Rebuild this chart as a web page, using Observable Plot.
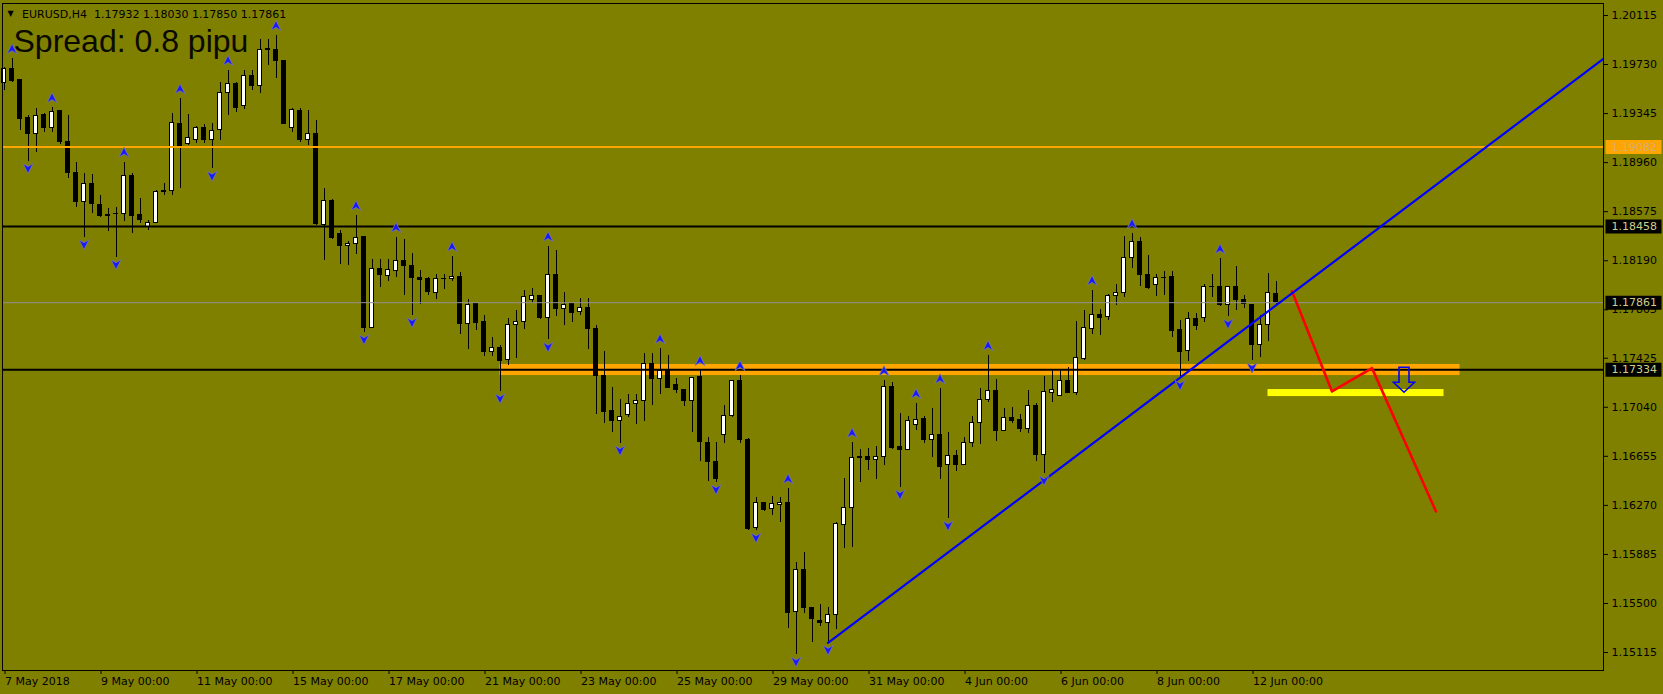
<!DOCTYPE html>
<html><head><meta charset="utf-8">
<script src="https://cdn.jsdelivr.net/npm/d3@7"></script>
<script src="https://cdn.jsdelivr.net/npm/@observablehq/plot@0.6"></script>
<style>
html,body{margin:0;padding:0;background:#808000;overflow:hidden}
#chart svg{display:block}
</style></head><body><div id="chart"></div>
<script>
// ---- data (EURUSD H4, bar 0 = 7 May 2018 00:00) ----
const opens = [1.19584,1.19697,1.19605,1.19309,1.19187,1.19330,1.19234,1.19362,1.19121,1.18880,
1.18650,1.18794,1.18624,1.18548,1.18559,1.18559,1.18859,1.18551,1.18453,1.18488,
1.18739,1.18736,1.19265,1.19108,1.19140,1.19234,1.19140,1.19213,1.19508,1.19579,
1.19401,1.19642,1.19563,1.19848,1.19846,1.19760,1.19234,1.19362,1.19140,1.19187,
1.18472,1.18655,1.18402,1.18304,1.18323,1.18373,1.17664,1.18127,1.18069,1.18111,
1.18190,1.18150,1.18056,1.18043,1.17935,1.18048,1.18045,1.18066,1.17692,1.17847,
1.17713,1.17472,1.17509,1.17413,1.17684,1.17708,1.17884,1.17917,1.17739,1.18082,
1.17810,1.17847,1.17788,1.17821,1.17658,1.17287,1.17007,1.16934,1.16981,1.17067,
1.17091,1.17383,1.17260,1.17321,1.17211,1.17179,1.17091,1.17274,1.16761,1.16612,
1.16824,1.16970,1.17250,1.16787,1.16094,1.16292,1.16240,1.16274,1.16292,1.15431,
1.15764,1.15468,1.15366,1.15345,1.15411,1.16117,1.16251,1.16646,1.16653,1.16628,
1.16648,1.17201,1.16732,1.16703,1.16899,1.16944,1.16785,1.16824,1.16585,1.16659,
1.16585,1.16761,1.16918,1.17095,1.17164,1.16852,1.16952,1.16938,1.16868,1.17051,
1.16664,1.17153,1.17130,1.17248,1.17153,1.17417,1.17653,1.17768,1.17747,1.17912,
1.17935,1.18210,1.18341,1.18082,1.17998,1.18056,1.18059,1.17643,1.17480,1.17729,
1.17739,1.17986,1.17986,1.17841,1.17986,1.17884,1.17839,1.17527,1.17687,1.17932];
const highs = [1.19709,1.19775,1.19613,1.19330,1.19383,1.19344,1.19391,1.19364,1.19330,1.18959,
1.18873,1.18867,1.18702,1.18598,1.18610,1.18964,1.18873,1.18676,1.18506,1.18742,
1.18794,1.19348,1.19461,1.19336,1.19244,1.19260,1.19265,1.19592,1.19684,1.19592,
1.19684,1.19684,1.19925,1.19925,1.19958,1.19762,1.19383,1.19383,1.19370,1.19291,
1.18755,1.18671,1.18428,1.18341,1.18545,1.18380,1.18200,1.18200,1.18200,1.18373,
1.18357,1.18247,1.18114,1.18056,1.18082,1.18080,1.18223,1.18098,1.17886,1.17850,
1.17760,1.17588,1.17525,1.17737,1.17800,1.17957,1.17972,1.17920,1.18302,1.18271,
1.17941,1.17852,1.17896,1.17894,1.17682,1.17478,1.17193,1.17101,1.17138,1.17140,
1.17460,1.17460,1.17499,1.17446,1.17263,1.17182,1.17276,1.17329,1.16803,1.16761,
1.17051,1.17250,1.17289,1.16795,1.16329,1.16295,1.16339,1.16334,1.16400,1.15821,
1.15897,1.15470,1.15492,1.15468,1.16133,1.16483,1.16761,1.16708,1.16716,1.16732,
1.17248,1.17234,1.16989,1.16967,1.17069,1.16965,1.17028,1.17185,1.16842,1.16701,
1.16803,1.16967,1.17185,1.17446,1.17256,1.17030,1.17036,1.16981,1.17172,1.17069,
1.17281,1.17329,1.17329,1.17352,1.17713,1.17800,1.17957,1.17807,1.17925,1.18004,
1.18380,1.18402,1.18370,1.18231,1.18080,1.18106,1.18106,1.17721,1.17784,1.17776,
1.18004,1.18082,1.18205,1.17990,1.18145,1.17917,1.17847,1.17760,1.18088,1.18030];
const lows = [1.19527,1.19592,1.19213,1.18972,1.19042,1.19199,1.19199,1.19103,1.18833,1.18610,
1.18375,1.18559,1.18532,1.18422,1.18218,1.18501,1.18406,1.18485,1.18428,1.18480,
1.18702,1.18702,1.18755,1.19095,1.19108,1.19108,1.18912,1.19134,1.19330,1.19356,
1.19375,1.19527,1.19501,1.19723,1.19618,1.19260,1.19199,1.19121,1.19095,1.18467,
1.18192,1.18357,1.18161,1.18153,1.18239,1.17629,1.17660,1.17982,1.18030,1.18061,
1.17917,1.17763,1.17847,1.17917,1.17886,1.17964,1.18030,1.17611,1.17493,1.17645,
1.17438,1.17438,1.17166,1.17368,1.17425,1.17650,1.17852,1.17729,1.17570,1.17752,
1.17682,1.17708,1.17760,1.17493,1.16983,1.16915,1.16844,1.16758,1.16962,1.16907,
1.16931,1.17056,1.17143,1.17193,1.17150,1.17048,1.16844,1.16617,1.16460,1.16452,
1.16758,1.16957,1.16758,1.16073,1.16073,1.16224,1.16190,1.16138,1.15306,1.15099,
1.15419,1.15196,1.15321,1.15191,1.15295,1.15929,1.15941,1.16452,1.16546,1.16475,
1.16585,1.16706,1.16412,1.16700,1.16858,1.16755,1.16646,1.16475,1.16167,1.16538,
1.16583,1.16726,1.16750,1.17077,1.16774,1.16850,1.16912,1.16839,1.16832,1.16617,
1.16522,1.17080,1.17128,1.17150,1.17132,1.17407,1.17611,1.17603,1.17721,1.17839,
1.17904,1.18132,1.17988,1.17964,1.17909,1.17917,1.17590,1.17270,1.17402,1.17643,
1.17708,1.17904,1.17831,1.17752,1.17800,1.17818,1.17407,1.17433,1.17559,1.17850];
const closes = [1.19697,1.19600,1.19304,1.19187,1.19325,1.19231,1.19359,1.19121,1.18877,1.18650,
1.18794,1.18637,1.18540,1.18540,1.18553,1.18859,1.18545,1.18506,1.18488,1.18728,
1.18731,1.19270,1.19081,1.19155,1.19234,1.19140,1.19210,1.19508,1.19579,1.19391,
1.19639,1.19563,1.19846,1.19843,1.19757,1.19265,1.19370,1.19140,1.19187,1.18475,
1.18655,1.18367,1.18304,1.18325,1.18370,1.17661,1.18127,1.18077,1.18114,1.18190,
1.18147,1.18053,1.18037,1.17943,1.18048,1.18045,1.18064,1.17692,1.17844,1.17700,
1.17470,1.17507,1.17407,1.17687,1.17711,1.17909,1.17915,1.17739,1.18082,1.17810,
1.17844,1.17778,1.17821,1.17653,1.17284,1.17001,1.16931,1.16965,1.17067,1.17091,
1.17381,1.17260,1.17321,1.17195,1.17172,1.17091,1.17271,1.16766,1.16609,1.16475,
1.16973,1.17248,1.16781,1.16088,1.16292,1.16237,1.16277,1.16292,1.15423,1.15764,
1.15463,1.15376,1.15345,1.15413,1.16120,1.16251,1.16643,1.16640,1.16624,1.16653,
1.17201,1.16724,1.16703,1.16934,1.16942,1.16781,1.16824,1.16575,1.16659,1.16585,
1.16761,1.16918,1.17099,1.17164,1.16852,1.16957,1.16931,1.16868,1.17051,1.16664,
1.17156,1.17177,1.17248,1.17153,1.17428,1.17666,1.17768,1.17739,1.17915,1.17938,
1.18213,1.18341,1.18077,1.17980,1.18056,1.18053,1.17637,1.17472,1.17729,1.17674,
1.17986,1.17982,1.17841,1.17986,1.17880,1.17849,1.17527,1.17687,1.17938,1.17861];

const fractalUpBars = [1,6,15,22,28,34,44,49,56,68,82,87,92,98,106,110,114,117,123,136,141,152];
const fractalDownBars = [3,10,14,26,45,51,62,68,77,89,94,99,103,112,118,130,147,153,156];

const dateTickBars = [0,12,24,36,48,60,72,84,96,108,120,132,144,156];
const dateTickLabels = ["7 May 2018","9 May 00:00","11 May 00:00","15 May 00:00","17 May 00:00","21 May 00:00",
  "23 May 00:00","25 May 00:00","29 May 00:00","31 May 00:00","4 Jun 00:00","6 Jun 00:00","8 Jun 00:00","12 Jun 00:00"];
const priceTicks = [1.20115,1.19730,1.19345,1.18960,1.18575,1.18190,1.17805,1.17425,1.17040,1.16655,1.16270,1.15885,1.15500,1.15115];

const orangeLevel = 1.19082;
const blackLevels = [1.18458, 1.17334];
const bidPrice = 1.17861;
const zoneBars = [62, 182];
const zonePrices = [1.17289, 1.17376];
const targetBars = [158, 180];
const targetPrices = [1.17124, 1.17179];
const trendBars = [103, 200];
const trendPrices = [1.15191, 1.19778];
const pathBars = [161, 166, 171, 179];
const pathPrices = [1.17951, 1.17164, 1.17347, 1.16222];
const arrowBar = [175];
const arrowPrice = [1.17158];
const symbolName = "EURUSD,H4";
const spreadText = "Spread: 0.8 pipu";

// ---- build ----
const bars = opens.map((o, i) => ({i, o, h: highs[i], l: lows[i], c: closes[i]}));
const last = bars[bars.length - 1];
const headerLine = symbolName + "\u00a0\u00a0" + [last.o, last.h, last.l, last.c].map(v => v.toFixed(5)).join(" ");
const upF = fractalUpBars.map(i => bars[i]);
const dnF = fractalDownBars.map(i => bars[i]);
const zone = [{x1: zoneBars[0], x2: zoneBars[1], y1: zonePrices[0], y2: zonePrices[1]}];
const target = [{x1: targetBars[0], x2: targetBars[1], y1: targetPrices[0], y2: targetPrices[1]}];
const trend = trendBars.map((b, k) => ({x: b, y: trendPrices[k]}));
const path = pathBars.map((b, k) => ({x: b, y: pathPrices[k]}));
const arrow = arrowBar.map((b, k) => ({x: b, y: arrowPrice[k]}));
const tagPrices = [orangeLevel, ...blackLevels, bidPrice];

const upArrow = {draw(ctx){ctx.moveTo(0,-5);ctx.lineTo(5,5);ctx.lineTo(0,2);ctx.lineTo(-5,5);ctx.closePath();}};
const downArrow = {draw(ctx){ctx.moveTo(0,5);ctx.lineTo(5,-5);ctx.lineTo(0,-2);ctx.lineTo(-5,-5);ctx.closePath();}};
const hollowDown = {draw(ctx){ctx.moveTo(-5,-25);ctx.lineTo(5,-25);ctx.lineTo(5,-10);ctx.lineTo(10.5,-10);ctx.lineTo(0,0);ctx.lineTo(-10.5,-10);ctx.lineTo(-5,-10);ctx.closePath();}};
const tagBox = {draw(ctx){ctx.moveTo(2,-7);ctx.lineTo(58,-7);ctx.lineTo(58,7);ctx.lineTo(2,7);ctx.closePath();}};

const chart = Plot.plot({
  width: 1663, height: 694,
  marginLeft: 2, marginRight: 60, marginTop: 3, marginBottom: 24,
  x: {type: "linear", domain: [-0.1875, 199.9375], axis: null},
  y: {type: "linear", domain: [1.14974, 1.20209], axis: null},
  color: {type: "identity"},
  style: {background: "#808000", color: "black", fontFamily: "'DejaVu Sans', sans-serif", fontSize: "11px"},
  marks: [
    Plot.rect(zone, {x1: "x1", x2: "x2", y1: "y1", y2: "y2", fill: "#FFA500"}),
    Plot.ruleX(bars, {x: "i", y1: "l", y2: "h", stroke: "black", strokeWidth: 1, shapeRendering: "crispEdges"}),
    Plot.rect(bars, {x1: d => d.i - 0.25, x2: d => d.i + 0.25, y1: "o", y2: "c",
      fill: d => d.c > d.o ? "white" : "black", stroke: "black", strokeWidth: 1, shapeRendering: "crispEdges"}),
    Plot.ruleY([orangeLevel], {stroke: "#FFA500", strokeWidth: 2}),
    Plot.ruleY(blackLevels, {stroke: "black", strokeWidth: 2}),
    Plot.ruleY([bidPrice], {stroke: "#909090", strokeWidth: 1}),
    Plot.rect(target, {x1: "x1", x2: "x2", y1: "y1", y2: "y2", fill: "#FFFF00"}),
    Plot.line(path, {x: "x", y: "y", stroke: "#FF0000", strokeWidth: 2.6}),
    Plot.line(trend, {x: "x", y: "y", stroke: "#0000FF", strokeWidth: 2.2, clip: "frame"}),
    Plot.dot(upF, {x: "i", y: "h", dy: -10, symbol: upArrow, fill: "#1818ff", stroke: "#7878a0", strokeWidth: 0.8}),
    Plot.dot(dnF, {x: "i", y: "l", dy: 7.5, symbol: downArrow, fill: "#1818ff", stroke: "#7878a0", strokeWidth: 0.8}),
    Plot.dot(arrow, {x: "x", y: "y", symbol: hollowDown, fill: "none", stroke: "#0000FF", strokeWidth: 1.6}),
    Plot.frame({stroke: "black", strokeWidth: 1, shapeRendering: "crispEdges"}),
    Plot.axisY(priceTicks, {anchor: "right", tickSize: 4, tickPadding: 4, tickFormat: d => d.toFixed(5), label: null}),
    Plot.axisX(dateTickBars, {anchor: "bottom", tickSize: 4, tickPadding: 3, textAnchor: "start", dx: 1,
      tickFormat: d => dateTickLabels[dateTickBars.indexOf(d)], label: null}),
    Plot.dot(tagPrices, {y: d => d, frameAnchor: "right", symbol: tagBox, r: 5,
      fill: d => d === orangeLevel ? "#FFA500" : "black", stroke: "none"}),
    Plot.text(tagPrices, {y: d => d, frameAnchor: "right", dx: 8, textAnchor: "start", text: d => d.toFixed(5),
      fill: d => d === orangeLevel ? "#d6ae72" : "#cfcf8c", fontSize: 11}),
    Plot.text(["\u25BC"], {frameAnchor: "top-left", text: d => d, dx: 8, dy: 9.5, fontSize: 8, textAnchor: "middle", lineAnchor: "middle"}),
    Plot.text([headerLine], {frameAnchor: "top-left", text: d => d, dx: 19.5, dy: 6.5, textAnchor: "start", lineAnchor: "top", fontSize: 11}),
    Plot.text([spreadText], {frameAnchor: "top-left", text: d => d, dx: 11, dy: 26, textAnchor: "start", lineAnchor: "top",
      fontSize: 32, fontFamily: "'Liberation Sans', Arial, sans-serif", fill: "#0a0a00"})
  ]
});
document.getElementById("chart").appendChild(chart);
</script>
</body></html>
